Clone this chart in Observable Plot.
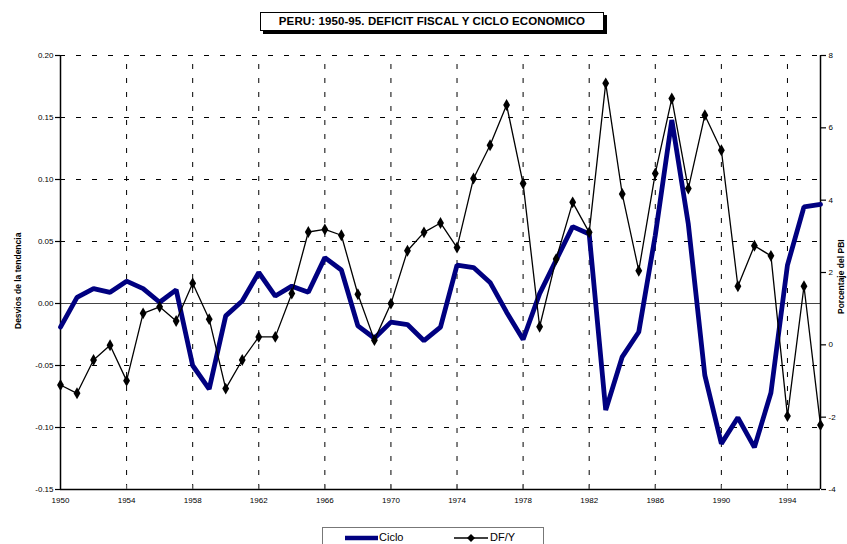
<!DOCTYPE html>
<html>
<head>
<meta charset="utf-8">
<script src="https://cdn.jsdelivr.net/npm/d3@7"></script>
<script src="https://cdn.jsdelivr.net/npm/@observablehq/plot@0.6"></script>
<style>
  html, body { margin: 0; padding: 0; background: #fff; }
  #wrap { position: relative; width: 847px; height: 544px; overflow: hidden; font-family: "Liberation Sans", Arial, sans-serif; }
  #title { position: absolute; left: 260px; top: 12px; width: 342px; height: 17px; border: 1px solid #000; background: #fff;
           box-shadow: 3px 3px 0 #000; font-size: 11.5px; font-weight: bold; text-align: center; line-height: 17px; letter-spacing: 0.1px; white-space: nowrap; }
  .ylab { position: absolute; font-size: 8.5px; line-height: 10px; font-weight: bold; white-space: nowrap; transform-origin: 0 0; }
  #legend { position: absolute; left: 322px; top: 527px; width: 220px; height: 30px; border: 1px solid #777; background: #fff; font-size: 11px; }
  #legend span { position: absolute; top: 3px; }
  #legend svg { position: absolute; top: 0; left: 0; }
</style>
</head>
<body>
<div id="wrap">
  <div id="chart"></div>
  <div id="title">PERU: 1950-95. DEFICIT FISCAL Y CICLO ECONOMICO</div>
  <div class="ylab" id="ylabL" style="left:13px; top:329px; transform: rotate(-90deg);">Desvios de la tendencia</div>
  <div class="ylab" id="ylabR" style="left:836px; top:314px; transform: rotate(-90deg);">Porcentaje del PBI</div>
  <div id="legend">
    <svg width="220" height="30">
      <line x1="22" y1="10" x2="55" y2="10" stroke="#000080" stroke-width="4.5"/>
      <line x1="131" y1="10" x2="165" y2="10" stroke="#000" stroke-width="1.3"/>
      <path d="M148,6 L152,10 L148,14 L144,10 Z" fill="#000"/>
    </svg>
    <span style="left:56px;">Ciclo</span>
    <span style="left:167px;">DF/Y</span>
  </div>
</div>
<script>
// ---- data ----
const years = [1950,1951,1952,1953,1954,1955,1956,1957,1958,1959,1960,1961,1962,1963,1964,1965,1966,1967,1968,1969,1970,1971,1972,1973,1974,1975,1976,1977,1978,1979,1980,1981,1982,1983,1984,1985,1986,1987,1988,1989,1990,1991,1992,1993,1994,1995,1996];
const ciclo = [-0.019,0.005,0.012,0.009,0.018,0.012,0.001,0.011,-0.050,-0.069,-0.010,0.002,0.025,0.006,0.014,0.009,0.037,0.027,-0.018,-0.028,-0.015,-0.017,-0.030,-0.019,0.031,0.029,0.017,-0.007,-0.029,0.008,0.035,0.062,0.056,-0.086,-0.043,-0.023,0.055,0.148,0.064,-0.058,-0.113,-0.092,-0.116,-0.072,0.031,0.078,0.080];
const dfy = [-1.11,-1.34,-0.42,-0.01,-0.99,0.87,1.05,0.66,1.70,0.71,-1.21,-0.42,0.22,0.22,1.42,3.12,3.19,3.03,1.40,0.13,1.14,2.60,3.11,3.37,2.69,4.60,5.52,6.63,4.46,0.50,2.37,3.94,3.11,7.23,4.17,2.05,4.74,6.81,4.32,6.35,5.38,1.62,2.74,2.46,-1.97,1.62,-2.22];
const leftTicks = [-0.15,-0.10,-0.05,0.00,0.05,0.10,0.15,0.20];
const rightTicks = [-4,-2,0,2,4,6,8];
const xTicks = [1950,1954,1958,1962,1966,1970,1974,1978,1982,1986,1990,1994];

// ---- scales mapping (right axis -> left axis units) ----
const yDom = [-0.15, 0.20];
const rDom = [-4, 8];
const toLeft = r => yDom[0] + (r - rDom[0]) * (yDom[1] - yDom[0]) / (rDom[1] - rDom[0]);
const tol = 1e-9;
const fromLeft = v => rDom[0] + (v - yDom[0]) * (rDom[1] - rDom[0]) / (yDom[1] - yDom[0]);

const dataC = years.map((y, i) => ({year: y, v: ciclo[i]}));
const dataD = years.map((y, i) => ({year: y, v: toLeft(dfy[i])}));

const plot = Plot.plot({
  width: 847,
  height: 544,
  marginLeft: 60,
  marginRight: 27,
  marginTop: 55,
  marginBottom: 55,
  style: {fontFamily: '"Liberation Sans", Arial, sans-serif', fontSize: "8px", background: "#fff"},
  x: {domain: [1950, 1996]},
  y: {domain: yDom},
  marks: [
    // dashed grid
    Plot.ruleY(leftTicks.filter(t => t > yDom[0] + tol), {stroke: "#000", strokeWidth: 1, strokeDasharray: "5,11"}),
    Plot.ruleX(xTicks.filter(t => t > 1950), {y1: yDom[0], y2: yDom[1], stroke: "#000", strokeWidth: 1, strokeDasharray: "5,9"}),
    // zero line
    Plot.ruleY([0], {stroke: "#444", strokeWidth: 1}),
    // axis lines
    Plot.ruleX([1950, 1996], {y1: yDom[0], y2: yDom[1], stroke: "#000", strokeWidth: 1.5}),
    Plot.ruleY([yDom[0]], {stroke: "#000", strokeWidth: 1.5}),
    // inner x ticks
    Plot.ruleX(xTicks.filter(t => t > 1950), {y1: yDom[0], y2: yDom[0], insetTop: -4, stroke: "#666", strokeWidth: 1}),
    // series
    Plot.line(dataC, {x: "year", y: "v", stroke: "#000080", strokeWidth: 4.8, strokeLinejoin: "miter"}),
    Plot.line(dataD, {x: "year", y: "v", stroke: "#000", strokeWidth: 1.3}),
    Plot.dot(dataD, {x: "year", y: "v", symbol: "diamond", r: 3.6, fill: "#000", stroke: "none"}),
    // axes
    Plot.axisY(leftTicks, {anchor: "left", tickSize: 5, tickPadding: 2, tickFormat: d => d.toFixed(2), label: null, stroke: "#000", strokeWidth: 1.2, fill: "#000"}),
    Plot.axisY(rightTicks.map(toLeft), {anchor: "right", tickSize: 5, tickPadding: 3, tickFormat: d => String(Math.round(fromLeft(d))), label: null, stroke: "#000", strokeWidth: 1.2, fill: "#000"}),
    Plot.axisX(xTicks, {anchor: "bottom", tickSize: 0, tickPadding: 8, tickFormat: d => String(d), label: null, fill: "#000"})
  ]
});
document.getElementById("chart").appendChild(plot);
</script>
</body>
</html>
